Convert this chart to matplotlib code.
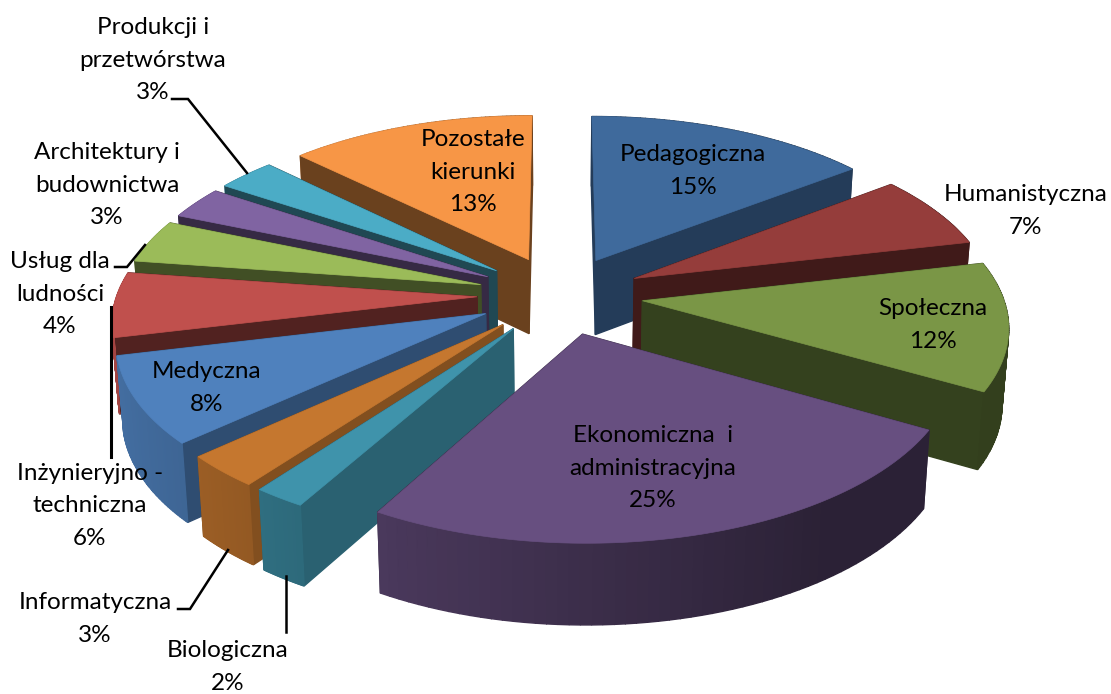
import numpy as np
import matplotlib
matplotlib.use("Agg")
import matplotlib.pyplot as plt
from matplotlib.colors import to_rgb

categories = ["Pedagogiczna", "Humanistyczna", "Społeczna", "Ekonomiczna i administracyjna",
              "Biologiczna", "Informatyczna", "Medyczna", "Inżynieryjno-techniczna",
              "Usług dla ludności", "Architektury i budownictwa", "Produkcji i przetwórstwa",
              "Pozostałe kierunki"]
values = [14.6, 6.8, 11.8, 25, 2, 3, 8, 6, 4, 3, 3, 12.7]
label_texts = ["Pedagogiczna\n15%", "Humanistyczna\n7%", "Społeczna\n12%",
               "Ekonomiczna  i\nadministracyjna\n25%", "Biologiczna\n2%", "Informatyczna\n3%",
               "Medyczna\n8%", "Inżynieryjno -\ntechniczna\n6%", "Usług dla\nludności\n4%",
               "Architektury i\nbudownictwa\n3%", "Produkcji i\nprzetwórstwa\n3%",
               "Pozostałe\nkierunki\n13%"]
top_colors = ["#3F6A9C", "#953D3B", "#7A9646", "#674F80", "#3F93AB", "#C5772F",
              "#4F81BD", "#C0504D", "#9BBB59", "#8064A2", "#4BACC6", "#F79646"]
side_shades = [0.57, 0.43, 0.43, 0.5, 0.66, 0.66, 0.6, 0.42, 0.42, 0.42, 0.42, 0.43]
label_xy = [(693, 171), (1026, 211), (933, 325), (653, 468), (228, 667), (95, 619),
            (207, 388), (90, 506), (60, 294), (107, 185), (153, 60), (473, 172)]
leaders = [([(247, 173), (188, 99), (172, 99)], 1.8), ([(145, 245), (127, 267), (115, 267)], 1.8),
           ([(111, 307), (111, 457)], 2.2),
           ([(228, 550), (190, 609), (178, 609)], 1.8), ([(286, 576), (286, 632)], 1.8)]

plt.rcParams["font.family"] = ["Lato", "DejaVu Sans"]
fig = plt.figure(figsize=(11.11, 6.94), dpi=100)
ax = fig.add_axes([0, 0, 1, 1])
ax.set_xlim(0, 1111)
ax.set_ylim(694, 0)
ax.axis("off")

CX, CY = 560, 295
EXPLODE, R, K, P, DEPTH = 83, 360, 0.475, 0.000359, 75


def project(x, y, z=0.0):
    s = 1 / (1 - P * y)
    return CX + s * x * (1 - 0.0002 * z), CY + s * K * y + z * s ** 0.5


def shade(color, f):
    return tuple(c * f for c in to_rgb(color))


def quad(a, b, color, zorder):
    (x1, y1), (x2, y2) = a, b
    p = [project(x1, y1), project(x2, y2), project(x2, y2, DEPTH), project(x1, y1, DEPTH)]
    ax.fill(*zip(*p), facecolor=color, edgecolor=color, lw=1.0, zorder=zorder)


fractions = np.array(values) / sum(values)
ends = np.cumsum(fractions) * 2 * np.pi
starts = ends - fractions * 2 * np.pi
mids = (starts + ends) / 2
order = sorted(range(len(values)), key=lambda i: -np.cos(mids[i]))

for rank, i in enumerate(order):
    ax0 = EXPLODE * np.sin(mids[i])
    ay0 = -EXPLODE * np.cos(mids[i])
    t = np.linspace(starts[i], ends[i], 60)
    xs = ax0 + R * np.sin(t)
    ys = ay0 - R * np.cos(t)
    base = top_colors[i]
    faces = []
    for j in range(len(t) - 1):
        nx = np.sin((t[j] + t[j + 1]) / 2)
        f = max(0.42, 0.58 - 0.28 * nx)
        faces.append(((ys[j] + ys[j + 1]) / 2, (xs[j], ys[j]), (xs[j + 1], ys[j + 1]), shade(base, f)))
    faces.append(((ay0 + ys[0]) / 2, (ax0, ay0), (xs[0], ys[0]), shade(base, side_shades[i])))
    faces.append(((ay0 + ys[-1]) / 2, (ax0, ay0), (xs[-1], ys[-1]), shade(base, side_shades[i])))
    faces.sort(key=lambda q: q[0])
    z = 10 + rank * 3
    for _, a, b, c in faces:
        quad(a, b, c, z)
    pts = [project(ax0, ay0)] + [project(a, b) for a, b in zip(xs, ys)]
    ax.fill(*zip(*pts), facecolor=base, edgecolor=base, lw=0.5, zorder=z + 1)

for text, (x, y) in zip(label_texts, label_xy):
    ax.text(x, y, text, ha="center", va="center", fontsize=17.5, color="black",
            linespacing=1.7, zorder=100)
for line, lw in leaders:
    ax.plot(*zip(*line), color="black", lw=lw, zorder=90, solid_joinstyle="miter")

fig.savefig("out.png", dpi=100)
